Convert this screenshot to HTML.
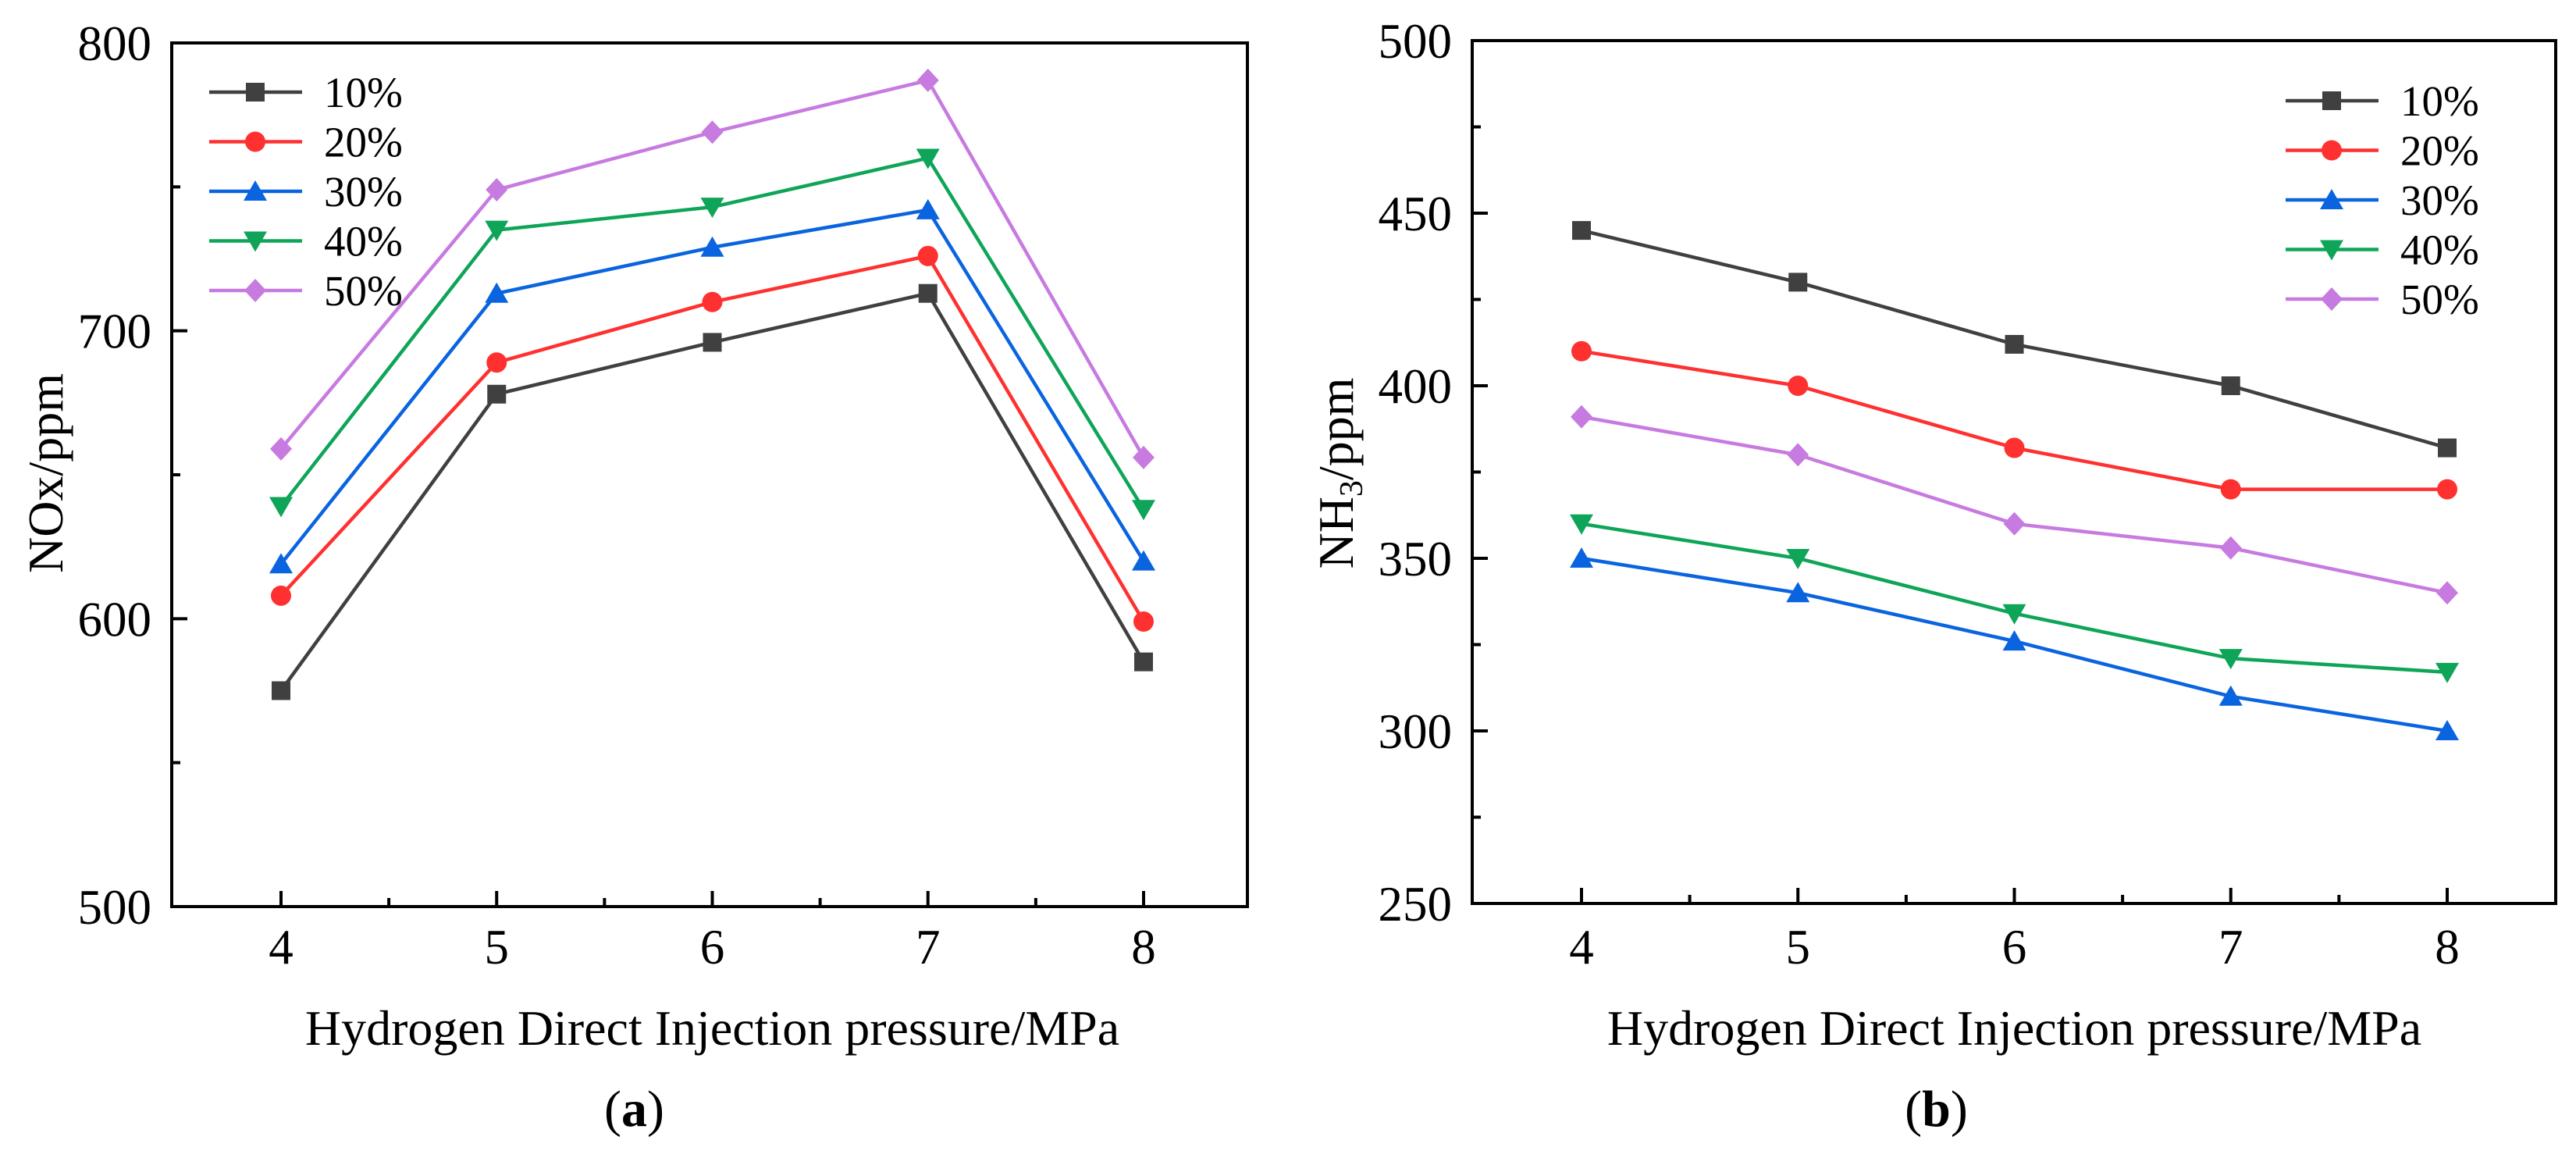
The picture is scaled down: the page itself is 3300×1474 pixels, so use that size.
<!DOCTYPE html>
<html><head><meta charset="utf-8"><style>
html,body{margin:0;padding:0;background:#fff;}
svg{display:block;font-family:"Liberation Serif",serif;}
</style></head>
<body>
<svg id="fig" width="3300" height="1474" viewBox="0 0 3300 1474" xmlns="http://www.w3.org/2000/svg"></svg>
<script>
const xCats = [4, 5, 6, 7, 8];
const seriesNames = ["10%", "20%", "30%", "40%", "50%"];
const noxS10 = [575, 678, 696, 713, 585];
const noxS20 = [608, 689, 710, 726, 599];
const noxS30 = [619, 713, 729, 742, 620];
const noxS40 = [639, 735, 743, 760, 638];
const noxS50 = [659, 749, 769, 787, 656];
const nh3S10 = [445, 430, 412, 400, 382];
const nh3S20 = [410, 400, 382, 370, 370];
const nh3S30 = [350, 340, 326, 310, 300];
const nh3S40 = [360, 350, 334, 321, 317];
const nh3S50 = [391, 380, 360, 353, 340];
const noxTicks = [500, 600, 700, 800];
const nh3Ticks = [250, 300, 350, 400, 450, 500];

const colors = ["#404040", "#ff3030", "#0a64e0", "#0ea558", "#c77ae0"];
const markers = ["square", "circle", "up", "down", "diamond"];
const NS = "http://www.w3.org/2000/svg";
const svg = document.getElementById("fig");

function mk(tag, attrs, parent) {
  const e = document.createElementNS(NS, tag);
  for (const k in attrs) e.setAttribute(k, attrs[k]);
  (parent || svg).appendChild(e);
  return e;
}
function marker(g, type, cx, cy, color) {
  const s = 12;
  let e;
  if (type === "square") e = mk("rect", {x: cx - s, y: cy - s, width: 2 * s, height: 2 * s, fill: color}, g);
  else if (type === "circle") e = mk("circle", {cx: cx, cy: cy, r: s + 1, fill: color}, g);
  else if (type === "up") e = mk("polygon", {points: `${cx},${cy - s - 2} ${cx + s + 3},${cy + s} ${cx - s - 3},${cy + s}`, fill: color}, g);
  else if (type === "down") e = mk("polygon", {points: `${cx},${cy + s + 2} ${cx + s + 3},${cy - s} ${cx - s - 3},${cy - s}`, fill: color}, g);
  else e = mk("polygon", {points: `${cx},${cy - s - 3} ${cx + s + 2},${cy} ${cx},${cy + s + 3} ${cx - s - 2},${cy}`, fill: color}, g);
  
  
}

function chart(cfg) {
  const g = mk("g", {});
  
  
  const xs = v => cfg.x4 + (v - 4) * (cfg.x8 - cfg.x4) / 4;
  const ys = v => cfg.bottom - (v - cfg.ymin) * (cfg.bottom - cfg.top) / (cfg.ymax - cfg.ymin);
  const fr = mk("rect", {x: cfg.left, y: cfg.top, width: cfg.right - cfg.left, height: cfg.bottom - cfg.top, fill: "none", stroke: "#000", "stroke-width": 4}, g);
  
  
  const step = cfg.ticks[1] - cfg.ticks[0];
  cfg.ticks.forEach((t, i) => {
    const y = ys(t);
    const tk = mk("line", {x1: cfg.left, x2: cfg.left + 20, y1: y, y2: y, stroke: "#000", "stroke-width": 4}, g);
    
    
    if (i < cfg.ticks.length - 1) {
      const ym = ys(t + step / 2);
      const mt = mk("line", {x1: cfg.left, x2: cfg.left + 11, y1: ym, y2: ym, stroke: "#000", "stroke-width": 4}, g);
      
      
    }
    const lb = mk("text", {x: cfg.left - 26, y: y + 22, "font-size": 63, "text-anchor": "end", fill: "#000"}, g);
    lb.textContent = t;
    
    
  });
  xCats.forEach((c, i) => {
    const x = xs(c);
    const tk = mk("line", {x1: x, x2: x, y1: cfg.bottom, y2: cfg.bottom - 20, stroke: "#000", "stroke-width": 4}, g);
    
    
    if (i < xCats.length - 1) {
      const xm = xs(c + 0.5);
      const mt = mk("line", {x1: xm, x2: xm, y1: cfg.bottom, y2: cfg.bottom - 11, stroke: "#000", "stroke-width": 4}, g);
      
      
    }
    const lb = mk("text", {x: x, y: 1234, "font-size": 63, "text-anchor": "middle", fill: "#000"}, g);
    lb.textContent = c;
    
    
  });
  cfg.series.forEach((vals, si) => {
    const sg = mk("g", {}, g);
    
    
    const pts = vals.map((v, i) => xs(xCats[i]) + "," + ys(v)).join(" ");
    const pl = mk("polyline", {points: pts, fill: "none", stroke: colors[si], "stroke-width": 4.5}, sg);
    
    
    vals.forEach((v, i) => marker(sg, markers[si], xs(xCats[i]), ys(v), colors[si]));
  });
  const lg = mk("g", {}, g);
  
  
  seriesNames.forEach((n, si) => {
    const y = cfg.legY + si * 63.5;
    const eg = mk("g", {}, lg);
    
    
    mk("line", {x1: cfg.legX, x2: cfg.legX + 119, y1: y, y2: y, stroke: colors[si], "stroke-width": 4.5}, eg);
    marker(eg, markers[si], cfg.legX + 59, y, colors[si]);
    const t = mk("text", {x: cfg.legX + 147, y: y + 19, "font-size": 55, fill: "#000"}, eg);
    t.textContent = n;
  });
  const xt = mk("text", {x: (cfg.x4 + cfg.x8) / 2, y: 1338, "font-size": 64, "text-anchor": "middle", fill: "#000"}, g);
  xt.textContent = "Hydrogen Direct Injection pressure/MPa";
  
  
  const yt = mk("text", {x: 0, y: 0, "font-size": 64, "text-anchor": "middle", fill: "#000", transform: `translate(${cfg.ytX},606) rotate(-90)`}, g);
  yt.innerHTML = cfg.ytitle;
  
  
  const pl = mk("text", {x: (cfg.x4 + cfg.x8) / 2 - 100, y: 1442, "font-size": 66, "text-anchor": "middle", fill: "#000"}, g);
  pl.innerHTML = cfg.label;
  
  
}

chart({name: "nox-chart", left: 220, right: 1598, top: 55, bottom: 1161, x4: 360, x8: 1465,
  ymin: 500, ymax: 800, ticks: noxTicks, series: [noxS10, noxS20, noxS30, noxS40, noxS50],
  legX: 268, legY: 118, ytX: 80, ytitle: "NOx/ppm", label: '(<tspan font-weight="bold">a</tspan>)'});
chart({name: "nh3-chart", left: 1886, right: 3274, top: 52, bottom: 1157, x4: 2026, x8: 3135,
  ymin: 250, ymax: 500, ticks: nh3Ticks, series: [nh3S10, nh3S20, nh3S30, nh3S40, nh3S50],
  legX: 2928, legY: 129, ytX: 1733, ytitle: 'NH<tspan font-size="42" dy="12">3</tspan><tspan dy="-12">/ppm</tspan>', label: '(<tspan font-weight="bold">b</tspan>)'});
</script>
</body></html>
